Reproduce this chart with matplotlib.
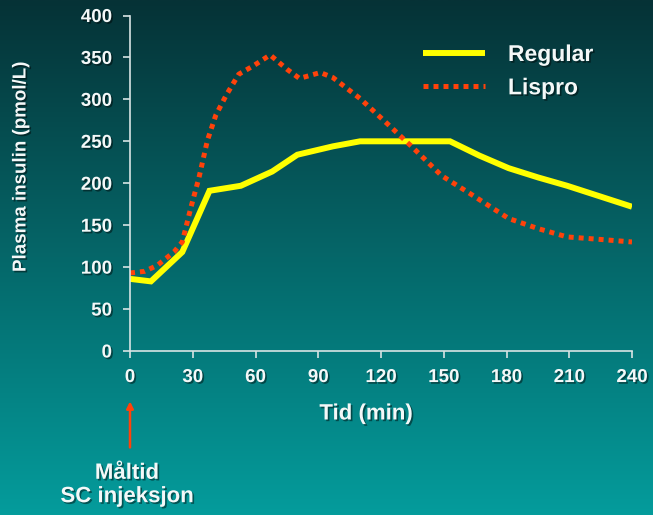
import matplotlib
matplotlib.use("Agg")
import matplotlib.pyplot as plt
import matplotlib.patheffects as pe
import numpy as np

plt.rcParams['font.family'] = ['Liberation Sans', 'DejaVu Sans']
plt.rcParams['font.weight'] = 'bold'

# data
regular_t = [0, 10, 25, 38, 53, 68, 80, 97, 110, 153, 167, 181, 195, 209, 240]
regular_y = [86, 83, 118, 191, 197, 214, 234, 244, 250, 250, 233, 218, 207, 197, 172]

lispro_t = [0, 7, 13, 21, 25, 29, 33, 37, 41, 46, 52, 59, 67, 75, 81, 91, 97,
            110, 123, 135, 149, 163, 181, 195, 209, 225, 240]
lispro_y = [93, 95, 102, 118, 130, 170, 207, 251, 281, 305, 330, 340, 353, 336, 325,
            332, 326, 301, 271, 243, 209, 187, 158, 146, 136, 133, 130]

xticks = [0, 30, 60, 90, 120, 150, 180, 210, 240]
yticks = [0, 50, 100, 150, 200, 250, 300, 350, 400]

shadow = [pe.withSimplePatchShadow(offset=(1.2, -1.2), shadow_rgbFace='black', alpha=0.45)]
white = '#f4f8f8'
yellow = '#ffff00'
red = '#ff420a'

fig = plt.figure(figsize=(6.53, 5.15), dpi=100)

# gradient background
bg = fig.add_axes([0, 0, 1, 1])
top = np.array([6, 50, 54]) / 255
bot = np.array([4, 156, 156]) / 255
f = np.linspace(0, 1, 256)[:, None]
grad = top + (bot - top) * f
bg.imshow(grad[:, None, :], aspect='auto', extent=[0, 1, 0, 1])
bg.axis('off')

ax = fig.add_axes([130 / 653, 1 - 351 / 515, 502 / 653, 335.5 / 515])
ax.patch.set_alpha(0)

ax.plot(regular_t, regular_y, color=yellow, lw=4.3, solid_joinstyle='miter',
        solid_capstyle='butt', label='Regular')
ax.plot(lispro_t, lispro_y, color=red, lw=3.6, dashes=(1, 1),
        dash_capstyle='butt', label='Lispro')

ax.set_xlim(0, 240)
ax.set_ylim(0, 400)
ax.set_xticks(xticks)
ax.set_yticks(yticks)
for s in ['top', 'right']:
    ax.spines[s].set_visible(False)
for s in ['left', 'bottom']:
    ax.spines[s].set_color('#d8e4e4')
    ax.spines[s].set_linewidth(1.2)
ax.tick_params(colors='#d8e4e4', width=1.2, length=5)
ax.tick_params(axis='y', pad=8)
ax.tick_params(axis='x', pad=8)
for lab in ax.get_xticklabels() + ax.get_yticklabels():
    lab.set_color(white)
    lab.set_fontsize(13.5)
    lab.set_fontweight('bold')
    lab.set_path_effects(shadow)

fig.text(21 / 653, 1 - 167 / 515, 'Plasma insulin (pmol/L)', rotation=90, ha='center',
         va='center', color=white, fontsize=13.5, fontweight='bold', path_effects=shadow)
fig.text(366 / 653, 1 - 414 / 515, 'Tid (min)', ha='center', va='center', color=white,
         fontsize=16, fontweight='bold', path_effects=shadow)

leg = ax.legend(loc='upper left', bbox_to_anchor=(0.584, 0.918), frameon=False,
                borderpad=0, borderaxespad=0,
                handlelength=2.7, handletextpad=1.0, labelspacing=0.45,
                prop={'size': 16.5, 'weight': 'bold'})
for t in leg.get_texts():
    t.set_color(white)
    t.set_path_effects(shadow)

# meal / injection marker
ax.annotate('', xy=(0, -60), xytext=(0, -115), xycoords='data',
            arrowprops=dict(arrowstyle='-|>', color=red, lw=1.8, mutation_scale=10,
                            shrinkA=0, shrinkB=0),
            annotation_clip=False)
fig.text(127 / 653, 1 - 485 / 515, 'Måltid\nSC injeksjon', ha='center', va='center',
         color=white, fontsize=16, fontweight='bold', linespacing=1.15, path_effects=shadow)

fig.savefig('out.png', dpi=100)
